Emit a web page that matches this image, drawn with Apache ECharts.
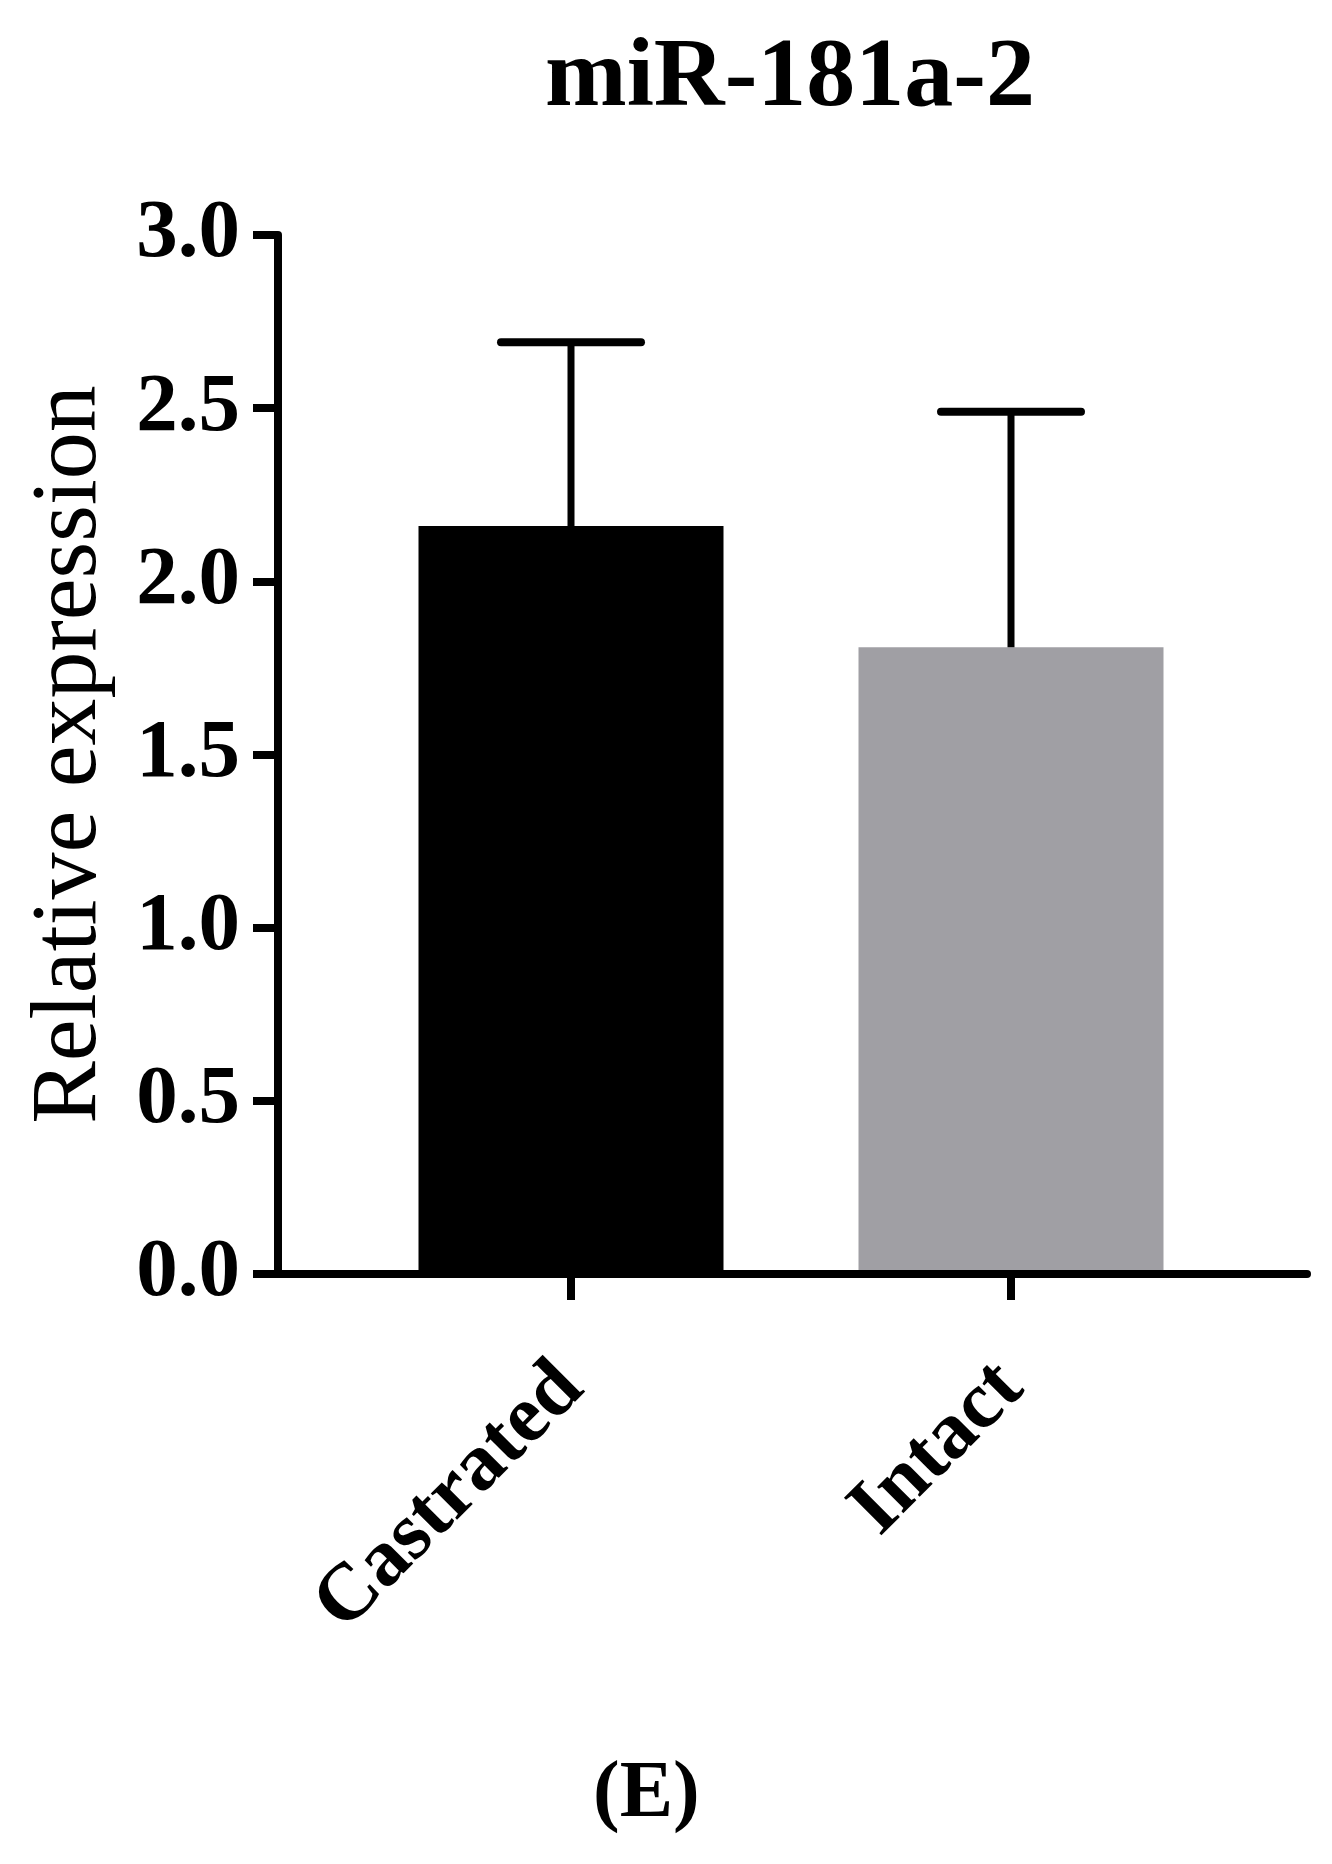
<!DOCTYPE html>
<html>
<head>
<meta charset="utf-8">
<script src="https://cdn.jsdelivr.net/npm/echarts@6/dist/echarts.min.js"></script>
<style>
html,body{margin:0;padding:0;background:#fff;}
#chart{width:1332px;height:1864px;}
</style>
</head>
<body>
<div id="chart"></div>
<script>
const titleText = 'miR-181a-2';
const panelLabel = '(E)';
const yAxisName = 'Relative expression';
const categories = ['Castrated', 'Intact'];
const means = [2.16, 1.81];
const errUpper = [2.69, 2.49];
const barColors = ['#000000', '#a09fa4'];

const FONT = '"Liberation Serif", "Times New Roman", serif';
const chart = echarts.init(document.getElementById('chart'), null, {renderer: 'canvas'});

const option = {
  backgroundColor: '#ffffff',
  animation: false,
  title: [
    {text: titleText, left: 540, top: 26,
     textStyle: {fontFamily: FONT, fontWeight: 'bold', fontSize: 98, color: '#000'}},
    {text: panelLabel, left: 588, top: 1750,
     textStyle: {fontFamily: FONT, fontWeight: 'bold', fontSize: 80, color: '#000'}}
  ],
  grid: [
    {left: 351, width: 880, top: 235, bottom: 590, containLabel: false},
    {left: 278, right: 25, top: 235, bottom: 590, containLabel: false}
  ],
  xAxis: [
    {type: 'category', gridIndex: 0, data: categories, z: 5,
     axisLine: {show: false},
     axisTick: {show: true, alignWithLabel: true, length: 26, lineStyle: {width: 8, color: '#000'}},
     axisLabel: {rotate: 45, margin: 102, fontFamily: FONT, fontWeight: 'bold', fontSize: 81, color: '#000'},
     splitLine: {show: false}},
    {type: 'value', gridIndex: 1, min: 0, max: 1, z: 5,
     axisLine: {show: true, lineStyle: {width: 8, color: '#000'}},
     axisTick: {show: false}, axisLabel: {show: false}, splitLine: {show: false}}
  ],
  yAxis: [
    {type: 'value', gridIndex: 0, min: 0, max: 3, interval: 0.5, offset: 73, z: 5,
     name: yAxisName, nameLocation: 'middle', nameGap: 161,
     nameTextStyle: {fontFamily: FONT, fontSize: 94, color: '#000'},
     axisLine: {show: true, lineStyle: {width: 8, color: '#000'}},
     axisTick: {show: true, length: 25, lineStyle: {width: 8, color: '#000'}},
     axisLabel: {margin: 38, fontFamily: FONT, fontWeight: 'bold', fontSize: 83, color: '#000',
                 formatter: v => v.toFixed(1)},
     splitLine: {show: false}},
    {type: 'value', gridIndex: 1, min: 0, max: 3, show: false, splitLine: {show: false}}
  ],
  series: [
    {type: 'bar', xAxisIndex: 0, yAxisIndex: 0, barWidth: 305,
     data: means.map((v, i) => ({value: v, itemStyle: {color: barColors[i]}}))},
    {type: 'custom', xAxisIndex: 0, yAxisIndex: 0, z: 4,
     data: means.map((m, i) => [i, m, errUpper[i]]),
     renderItem: function (params, api) {
       const p1 = api.coord([api.value(0), api.value(1)]);
       const p2 = api.coord([api.value(0), api.value(2)]);
       const half = 70;
       const style = {stroke: '#000', lineWidth: 7, lineCap: 'butt'};
       return {type: 'group', children: [
         {type: 'line', shape: {x1: p1[0], y1: p1[1], x2: p2[0], y2: p2[1]}, style: style},
         {type: 'line', shape: {x1: p2[0] - half, y1: p2[1], x2: p2[0] + half, y2: p2[1]}, style: {stroke: '#000', lineWidth: 8, lineCap: 'round'}}
       ]};
     }}
  ]
};
chart.setOption(option);
</script>
</body>
</html>
